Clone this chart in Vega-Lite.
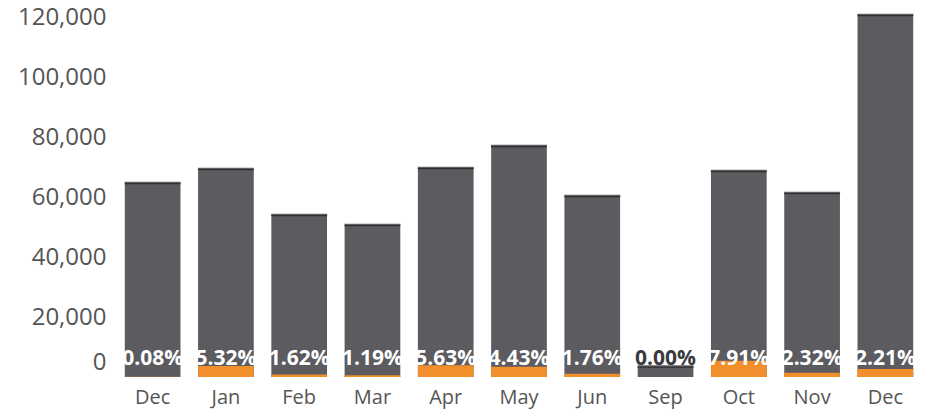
{
  "$schema": "https://vega.github.io/schema/vega-lite/v6.json",
  "autosize": "none",
  "width": 806,
  "height": 372,
  "padding": {"left": 116, "top": 5, "right": 8, "bottom": 33},
  "background": "white",
  "config": {"view": {"stroke": null}, "font": "Open Sans"},
  "data": {"values": [
    {"m": "Dec-19", "total": 64700, "orange": 50, "pct": "0.08%"},
    {"m": "Jan-20", "total": 69300, "orange": 3690, "pct": "5.32%"},
    {"m": "Feb-20", "total": 54000, "orange": 875, "pct": "1.62%"},
    {"m": "Mar-20", "total": 50700, "orange": 600, "pct": "1.19%"},
    {"m": "Apr-20", "total": 69700, "orange": 3920, "pct": "5.63%"},
    {"m": "May-20", "total": 77000, "orange": 3410, "pct": "4.43%"},
    {"m": "Jun-20", "total": 60300, "orange": 1060, "pct": "1.76%"},
    {"m": "Sep-20", "total": 3500, "orange": 0, "pct": "0.00%"},
    {"m": "Oct-20", "total": 68700, "orange": 5430, "pct": "7.91%"},
    {"m": "Nov-20", "total": 61300, "orange": 1420, "pct": "2.32%"},
    {"m": "Dec-20", "total": 120700, "orange": 2670, "pct": "2.21%"}
  ]},
  "encoding": {
    "x": {
      "field": "m", "type": "ordinal", "sort": null,
      "scale": {"paddingInner": 0.24, "paddingOuter": 0.12},
      "axis": {
        "title": null, "domain": false, "ticks": false, "labelAngle": 0,
        "labelExpr": "slice(datum.label, 0, 3)",
        "labelFontSize": 20, "labelColor": "#555555", "labelPadding": 10,
        "labelFont": "Open Sans"
      }
    }
  },
  "layer": [
    {
      "mark": {"type": "bar", "color": "#5b5b60"},
      "encoding": {
        "y": {
          "field": "total", "type": "quantitative",
          "scale": {"domain": [0, 124000], "nice": false},
          "axis": {
            "title": null, "domain": false, "ticks": false, "grid": false,
            "values": [0, 20000, 40000, 60000, 80000, 100000, 120000],
            "format": ",d", "labelFontSize": 24, "labelColor": "#555555",
            "labelPadding": 10, "labelFlush": true, "labelFlushOffset": -3,
            "labelFont": "Open Sans"
          }
        }
      }
    },
    {
      "mark": {"type": "bar", "color": "#f28e2b"},
      "encoding": {"y": {"field": "orange", "type": "quantitative"}}
    },
    {
      "mark": {"type": "tick", "color": "#1c1c1c", "size": 56, "thickness": 2.5},
      "encoding": {"y": {"field": "total", "type": "quantitative"}}
    },
    {
      "mark": {"type": "text", "fontSize": 21, "fontWeight": "bold", "baseline": "alphabetic", "align": "center", "dy": -12, "font": "Open Sans"},
      "encoding": {
        "y": {"datum": 0},
        "text": {"field": "pct"},
        "color": {
          "condition": {"test": "datum.total < 10000", "value": "#3a3a3e"},
          "value": "#ffffff"
        }
      }
    }
  ]
}
